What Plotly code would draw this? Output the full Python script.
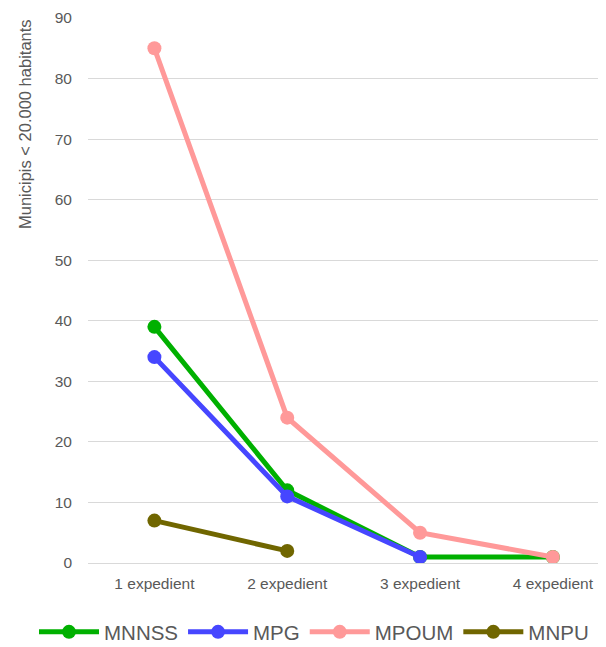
import plotly.graph_objects as go

categories = ["1 expedient", "2 expedient", "3 expedient", "4 expedient"]
mnnss = [39, 12, 1, 1]
mpg = [34, 11, 1, None]
mpoum = [85, 24, 5, 1]
mnpu = [7, 2, None, None]

series = [
    ("MNNSS", mnnss, "#00B000"),
    ("MPG", mpg, "#4646FF"),
    ("MPOUM", mpoum, "#FF9999"),
    ("MNPU", mnpu, "#706600"),
]

FONT = "Liberation Sans, Arial, sans-serif"
GREY = "#595959"

fig = go.Figure()
for name, vals, col in series:
    fig.add_trace(go.Scatter(
        x=categories, y=vals, name=name, mode="lines+markers",
        line=dict(color=col, width=5),
        marker=dict(color=col, size=14),
        connectgaps=False,
    ))

# page body has an 8px margin, so the figure is sized to fit the window
W, H = 598, 639
fig.update_layout(
    width=W, height=H,
    margin=dict(l=80, r=0, t=10, b=84, autoexpand=False),
    paper_bgcolor="white", plot_bgcolor="white",
    font=dict(family=FONT, color=GREY, size=15),
    showlegend=True,
    legend=dict(orientation="h", x=(26 - 80) / 518, xanchor="left", xref="paper",
                y=(555 - 624) / 545, yanchor="middle", yref="paper",
                font=dict(family=FONT, size=20.5, color=GREY),
                itemwidth=60, traceorder="normal"),
    xaxis=dict(type="category", range=[-0.5, 3.4], showgrid=False,
               showline=True, linecolor="#d9d9d9", linewidth=1,
               ticks="", tickfont=dict(family=FONT, size=15.5, color=GREY),
               ticklabelstandoff=6, automargin=False),
    yaxis=dict(range=[0, 90], dtick=10, showgrid=True, gridcolor="#d9d9d9",
               gridwidth=1, zeroline=False, ticks="", automargin=False,
               tickfont=dict(family=FONT, size=15.5, color=GREY), ticklabelstandoff=15),
    annotations=[dict(text="Municipis < 20.000 habitants", x=(17 - 80) / 518,
                      xref="paper", xanchor="center", y=0.8055, yref="paper",
                      yanchor="middle", textangle=-90, showarrow=False,
                      font=dict(family=FONT, size=16.5, color=GREY))],
)

fig.write_html("out.html")
